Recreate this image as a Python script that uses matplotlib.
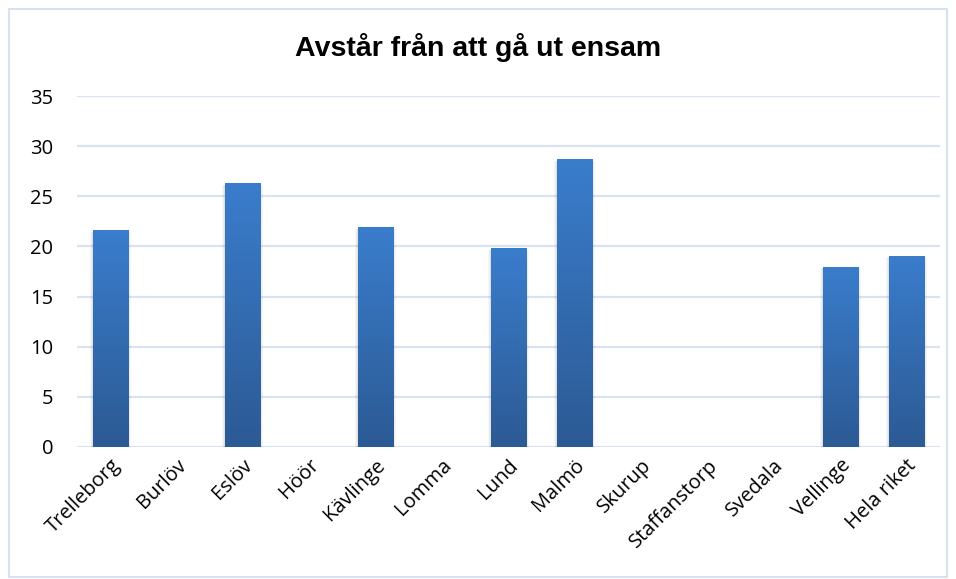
import numpy as np
import matplotlib.pyplot as plt
from matplotlib.colors import LinearSegmentedColormap
from matplotlib.patches import Rectangle

categories = ['Trelleborg', 'Burlöv', 'Eslöv', 'Höör', 'Kävlinge', 'Lomma', 'Lund',
              'Malmö', 'Skurup', 'Staffanstorp', 'Svedala', 'Vellinge', 'Hela riket']
values = [21.6, 0, 26.3, 0, 21.9, 0, 19.8, 28.7, 0, 0, 0, 18.0, 19.1]
yticks = [0, 5, 10, 15, 20, 25, 30, 35]

fig = plt.figure(figsize=(9.56, 5.79), dpi=100)
fig.patch.set_facecolor('white')
fig.add_artist(Rectangle((0.009, 0.003), 0.982, 0.981, transform=fig.transFigure,
                         fill=False, edgecolor='#d6e2f2', linewidth=1.5))

ax = fig.add_axes([0.0805, 0.228, 0.9025, 0.606])
x = np.arange(len(categories))

# soft glow behind the bars
for w, a in [(0.62, 0.03), (0.59, 0.04), (0.56, 0.05)]:
    ax.bar(x, np.array(values) + 0.1, width=w, bottom=-0.25, color='#000000',
           alpha=a, zorder=2, linewidth=0)
bars = ax.bar(x, values, width=0.53, color='#336fb8', zorder=3)

cmap = LinearSegmentedColormap.from_list('blu', ['#2c5a94', '#3a7dcc'])
grad = np.linspace(0, 1, 256).reshape(-1, 1)
for b in bars:
    if b.get_height() <= 0:
        b.set_visible(False)
        continue
    x0, w, h = b.get_x(), b.get_width(), b.get_height()
    im = ax.imshow(grad, cmap=cmap, origin='lower', aspect='auto',
                   extent=(x0, x0 + w, 0, h), zorder=4)
    im.set_clip_path(b)

ax.set_xlim(-0.5, len(categories) - 0.5)
ax.set_ylim(0, 35)
ax.set_yticks(yticks)
ax.yaxis.grid(True, color='#d9e3f1', linewidth=1.6, zorder=0)
ax.set_axisbelow(True)
for s in ax.spines.values():
    s.set_visible(False)
ax.tick_params(axis='both', length=0, labelsize=14.5, colors='black')
ax.tick_params(axis='y', pad=17)
ax.tick_params(axis='x', pad=6)
ax.set_xticks(x)
ax.set_xticklabels(categories, rotation=45, ha='right', rotation_mode='anchor',
                   fontfamily='Open Sans')
for t in ax.get_yticklabels():
    t.set_fontfamily('Open Sans')

fig.text(0.5, 0.918, 'Avstår från att gå ut ensam', ha='center', va='center',
         fontsize=20.5, fontweight='bold', fontfamily='Liberation Sans')

fig.savefig('out.png', dpi=100)
